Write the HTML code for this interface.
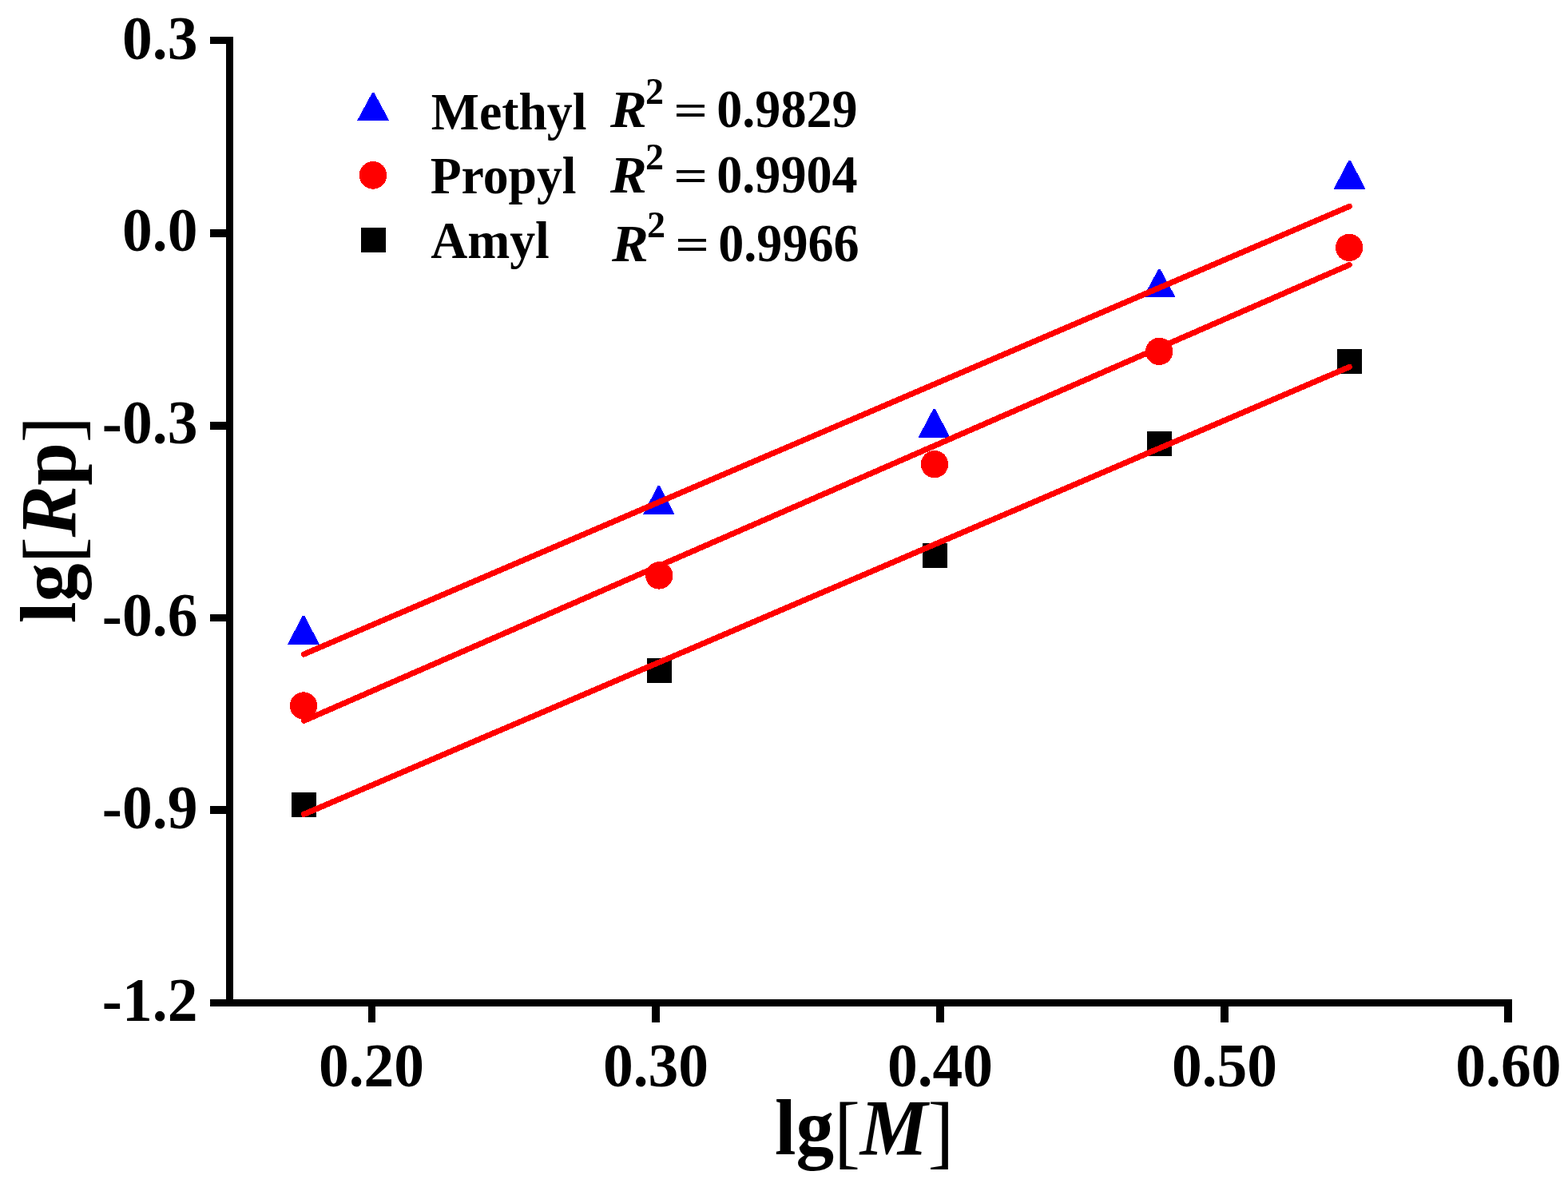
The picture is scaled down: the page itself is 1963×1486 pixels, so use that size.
<!DOCTYPE html>
<html><head><meta charset="utf-8"><title>lg[Rp] vs lg[M]</title>
<style>html,body{margin:0;padding:0;background:#fff;overflow:hidden}svg{display:block}rect,polygon,circle,line{shape-rendering:crispEdges}</style>
</head><body>
<svg width="1963" height="1486" viewBox="0 0 1963 1486"><rect x="283" y="46" width="9" height="1214" fill="#000"/>
<rect x="263" y="1251" width="1630" height="9" fill="#000"/>
<rect x="263" y="46" width="29" height="9" fill="#000"/>
<rect x="263" y="287" width="29" height="10" fill="#000"/>
<rect x="263" y="528" width="29" height="10" fill="#000"/>
<rect x="263" y="769" width="29" height="9" fill="#000"/>
<rect x="263" y="1009" width="29" height="10" fill="#000"/>
<rect x="461" y="1251" width="9" height="29" fill="#000"/>
<rect x="816" y="1251" width="10" height="29" fill="#000"/>
<rect x="1172" y="1251" width="10" height="29" fill="#000"/>
<rect x="1528" y="1251" width="10" height="29" fill="#000"/>
<rect x="1883" y="1251" width="10" height="29" fill="#000"/>
<text transform="translate(247.4,74.1) scale(0.962,1)" text-anchor="end" style="font-family:'Liberation Serif','Times New Roman',serif;font-size:78.5px;font-weight:bold">0.3</text>
<text transform="translate(247.4,314.1) scale(0.962,1)" text-anchor="end" style="font-family:'Liberation Serif','Times New Roman',serif;font-size:78.5px;font-weight:bold">0.0</text>
<text transform="translate(247.4,555.2) scale(0.962,1)" text-anchor="end" style="font-family:'Liberation Serif','Times New Roman',serif;font-size:78.5px;font-weight:bold">-0.3</text>
<text transform="translate(247.4,796.1) scale(0.962,1)" text-anchor="end" style="font-family:'Liberation Serif','Times New Roman',serif;font-size:78.5px;font-weight:bold">-0.6</text>
<text transform="translate(247.4,1037.1) scale(0.962,1)" text-anchor="end" style="font-family:'Liberation Serif','Times New Roman',serif;font-size:78.5px;font-weight:bold">-0.9</text>
<text transform="translate(247.4,1278) scale(0.962,1)" text-anchor="end" style="font-family:'Liberation Serif','Times New Roman',serif;font-size:78.5px;font-weight:bold">-1.2</text>
<text transform="translate(398.92,1360.10) scale(0.962,1)" style="font-family:'Liberation Serif','Times New Roman',serif;font-size:78.5px;font-weight:bold;font-style:normal">0.20</text>
<text transform="translate(754.92,1360.10) scale(0.962,1)" style="font-family:'Liberation Serif','Times New Roman',serif;font-size:78.5px;font-weight:bold;font-style:normal">0.30</text>
<text transform="translate(1110.92,1360.10) scale(0.962,1)" style="font-family:'Liberation Serif','Times New Roman',serif;font-size:78.5px;font-weight:bold;font-style:normal">0.40</text>
<text transform="translate(1466.92,1360.10) scale(0.962,1)" style="font-family:'Liberation Serif','Times New Roman',serif;font-size:78.5px;font-weight:bold;font-style:normal">0.50</text>
<text transform="translate(1822.32,1360.10) scale(0.962,1)" style="font-family:'Liberation Serif','Times New Roman',serif;font-size:78.5px;font-weight:bold;font-style:normal">0.60</text>
<polygon points="378.80,770.80 381.20,770.80 400.10,806.90 359.90,806.90" fill="#0000ff"/>
<polygon points="823.60,608.00 826.00,608.00 844.90,644.30 804.70,644.30" fill="#0000ff"/>
<polygon points="1168.40,512.00 1170.80,512.00 1189.70,547.80 1149.50,547.80" fill="#0000ff"/>
<polygon points="1450.20,336.90 1452.60,336.90 1471.50,371.90 1431.30,371.90" fill="#0000ff"/>
<polygon points="1688.40,200.90 1690.80,200.90 1709.70,236.90 1669.50,236.90" fill="#0000ff"/>
<circle cx="380" cy="883.5" r="17.2" fill="#ff0000"/>
<circle cx="825.2" cy="720.4" r="17.2" fill="#ff0000"/>
<circle cx="1170" cy="581.1" r="17.2" fill="#ff0000"/>
<circle cx="1451.2" cy="439.9" r="17.2" fill="#ff0000"/>
<circle cx="1689.1" cy="309.9" r="17.2" fill="#ff0000"/>
<rect x="365.00" y="991.50" width="31" height="31" fill="#000"/>
<rect x="810.00" y="824.20" width="31" height="31" fill="#000"/>
<rect x="1155.00" y="679.50" width="31" height="31" fill="#000"/>
<rect x="1436.00" y="539.70" width="31" height="31" fill="#000"/>
<rect x="1673.90" y="436.80" width="31" height="31" fill="#000"/>
<line x1="380.5" y1="819.0" x2="1689.3" y2="258.4" stroke="#ff0000" stroke-width="7.2" stroke-linecap="round"/>
<line x1="380.5" y1="902.3" x2="1689.3" y2="331.5" stroke="#ff0000" stroke-width="7.2" stroke-linecap="round"/>
<line x1="380.5" y1="1019.4" x2="1689.3" y2="459.4" stroke="#ff0000" stroke-width="7.2" stroke-linecap="round"/>
<polygon points="466.00,116.00 468.40,116.00 487.25,151.00 447.15,151.00" fill="#0000ff"/>
<circle cx="467" cy="219.4" r="17.3" fill="#ff0000"/>
<rect x="452" y="285" width="31" height="31" fill="#000"/>
<text transform="translate(539.81,161.60) scale(0.977,1)" style="font-family:'Liberation Serif','Times New Roman',serif;font-size:65.2px;font-weight:bold;font-style:normal">Methyl</text>
<text transform="translate(538.71,241.80) scale(0.977,1)" style="font-family:'Liberation Serif','Times New Roman',serif;font-size:65.2px;font-weight:bold;font-style:normal">Propyl</text>
<text transform="translate(539.18,323.00) scale(0.977,1)" style="font-family:'Liberation Serif','Times New Roman',serif;font-size:65.2px;font-weight:bold;font-style:normal">Amyl</text>
<text transform="translate(764.00,158.90) scale(1.046,1)" style="font-family:'Liberation Serif','Times New Roman',serif;font-size:65.7px;font-weight:bold;font-style:italic">R</text>
<text transform="translate(807.97,129.90) scale(1.011,1)" style="font-family:'Liberation Serif','Times New Roman',serif;font-size:45.5px;font-weight:bold">2</text>
<text transform="translate(843.25,155.77) scale(1.364,1)" style="font-family:'Liberation Serif','Times New Roman',serif;font-size:55.2px;font-weight:bold">=</text>
<text transform="translate(897.26,159.35) scale(0.96,1)" style="font-family:'Liberation Serif','Times New Roman',serif;font-size:66.8px;font-weight:bold">0.9829</text>
<text transform="translate(764.00,241.00) scale(1.046,1)" style="font-family:'Liberation Serif','Times New Roman',serif;font-size:65.7px;font-weight:bold;font-style:italic">R</text>
<text transform="translate(807.97,211.90) scale(1.011,1)" style="font-family:'Liberation Serif','Times New Roman',serif;font-size:45.5px;font-weight:bold">2</text>
<text transform="translate(843.25,237.67) scale(1.364,1)" style="font-family:'Liberation Serif','Times New Roman',serif;font-size:55.2px;font-weight:bold">=</text>
<text transform="translate(897.26,241.45) scale(0.96,1)" style="font-family:'Liberation Serif','Times New Roman',serif;font-size:66.8px;font-weight:bold">0.9904</text>
<text transform="translate(766.00,327.00) scale(1.046,1)" style="font-family:'Liberation Serif','Times New Roman',serif;font-size:65.7px;font-weight:bold;font-style:italic">R</text>
<text transform="translate(809.97,296.90) scale(1.011,1)" style="font-family:'Liberation Serif','Times New Roman',serif;font-size:45.5px;font-weight:bold">2</text>
<text transform="translate(845.25,323.77) scale(1.364,1)" style="font-family:'Liberation Serif','Times New Roman',serif;font-size:55.2px;font-weight:bold">=</text>
<text transform="translate(899.26,327.45) scale(0.96,1)" style="font-family:'Liberation Serif','Times New Roman',serif;font-size:66.8px;font-weight:bold">0.9966</text>
<text transform="translate(970.04,1444.8) scale(0.962,1)" style="font-family:'Liberation Serif','Times New Roman',serif;font-size:99px;font-weight:bold">lg<tspan style="font-weight:normal;font-size:102px" dy="5.5">[</tspan><tspan style="font-style:italic" dy="-5.5">M</tspan><tspan style="font-weight:normal;font-size:102px" dy="5.5">]</tspan></text>
<text transform="translate(93.9,780.28) rotate(-90) scale(0.9745,1)" style="font-family:'Liberation Serif','Times New Roman',serif;font-size:99px;font-weight:bold">lg<tspan style="font-weight:normal;font-size:102px" dy="5.5">[</tspan><tspan style="font-style:italic" dy="-5.5">R</tspan>p<tspan style="font-weight:normal;font-size:102px" dy="5.5">]</tspan></text></svg>
</body></html>
